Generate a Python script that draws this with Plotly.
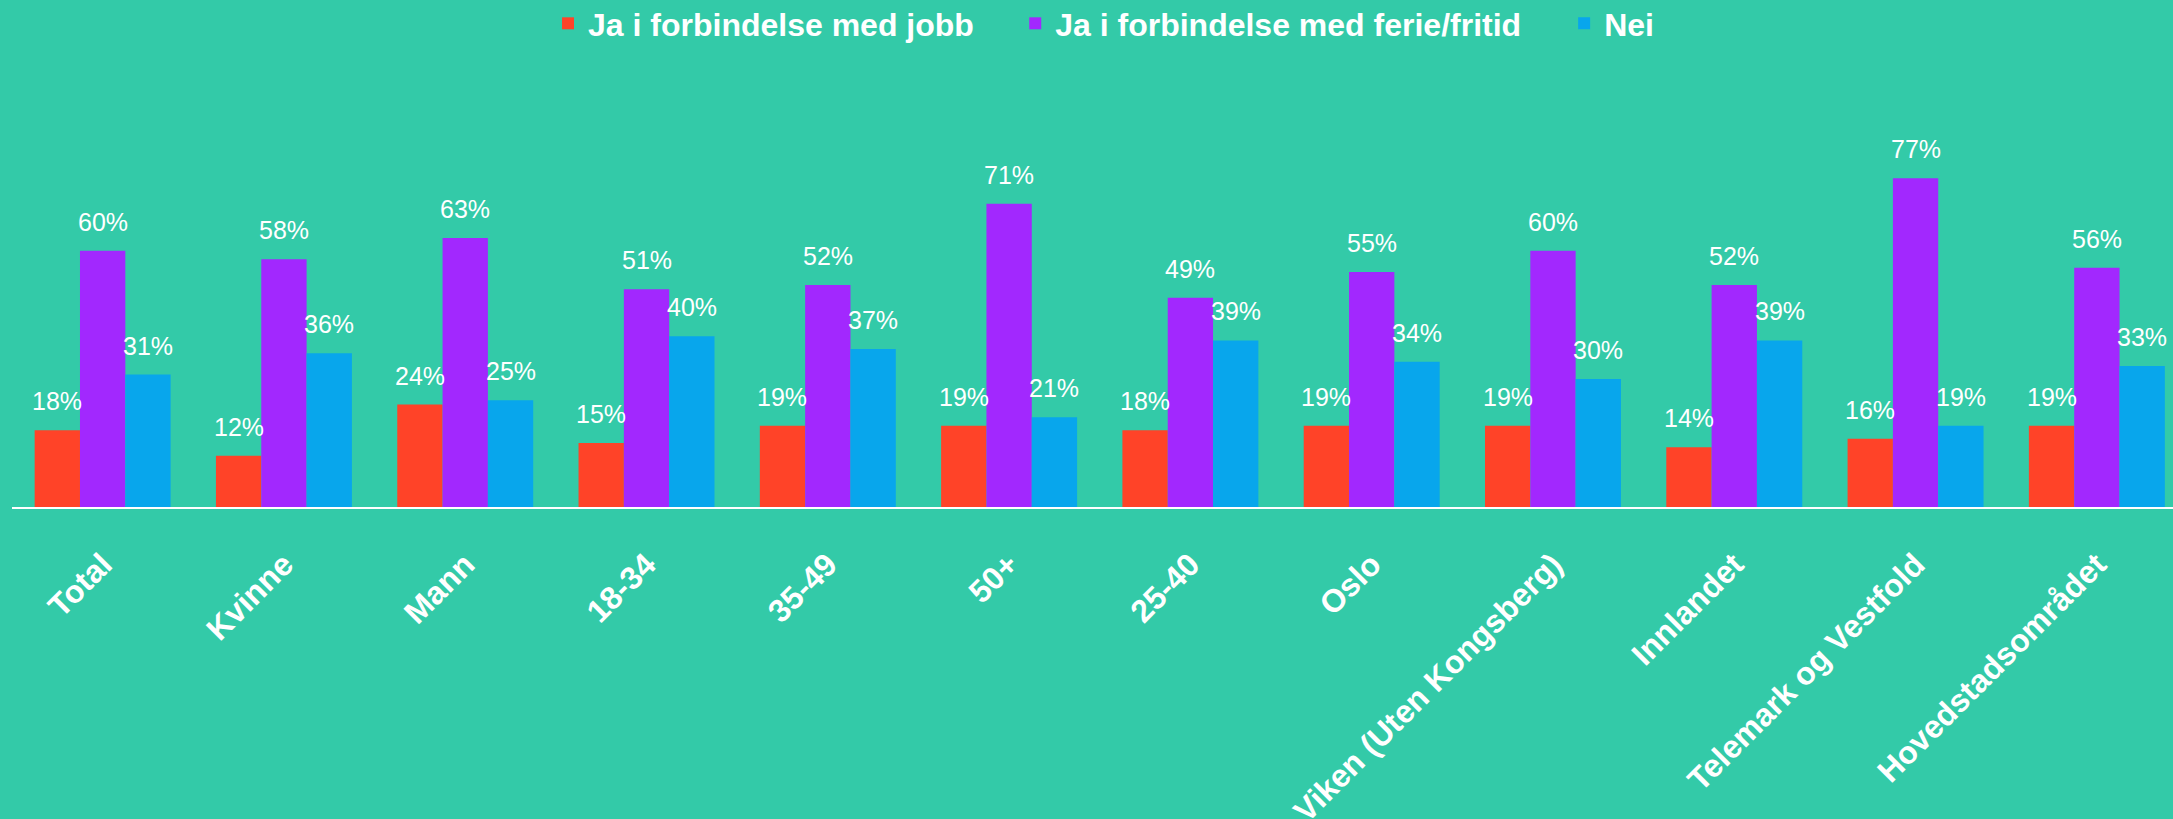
import plotly.graph_objects as go

categories = ["Total", "Kvinne", "Mann", "18-34", "35-49", "50+", "25-40", "Oslo",
              "Viken (Uten Kongsberg)", "Innlandet", "Telemark og Vestfold", "Hovedstadsområdet"]
series_names = ["Ja i forbindelse med jobb", "Ja i forbindelse med ferie/fritid", "Nei"]
jobb = [18, 12, 24, 15, 19, 19, 18, 19, 19, 14, 16, 19]
ferie = [60, 58, 63, 51, 52, 71, 49, 55, 60, 52, 77, 56]
nei = [31, 36, 25, 40, 37, 21, 39, 34, 30, 39, 19, 33]

colors = ["#FF4328", "#A228FE", "#08A6EC"]
bg = "#33CAA8"
FONT = "Liberation Sans, Arial, sans-serif"

legend_ids = ["legend", "legend2", "legend3"]
legend_x = [0.2522, 0.4672, 0.7198]

fig = go.Figure()
all_series = [jobb, ferie, nei]
for name, vals, col, lid in zip(series_names, all_series, colors, legend_ids):
    fig.add_trace(go.Bar(x=categories, y=vals, name=name, legend=lid,
                         marker=dict(color=col, line=dict(width=0))))

offsets = [-0.25, 0.0, 0.25]
annotations = []
for vals, off in zip(all_series, offsets):
    for i, v in enumerate(vals):
        annotations.append(dict(x=i + off, y=v, xref="x", yref="y", text=f"{v}%",
                                showarrow=False, yanchor="bottom", yshift=13,
                                font=dict(family=FONT, size=25, color="white")))

legend_style = dict(orientation="h", xref="container", yref="paper", xanchor="left",
                    y=1.2555, yanchor="top",
                    font=dict(family=FONT, size=32, color="white", weight="bold"),
                    bgcolor="rgba(0,0,0,0)")
layout_legends = {lid: dict(legend_style, x=lx) for lid, lx in zip(legend_ids, legend_x)}

fig.update_layout(
    width=2173, height=819,
    paper_bgcolor=bg, plot_bgcolor=bg,
    margin=dict(l=12, r=0, t=100, b=312, autoexpand=False),
    barmode="group", bargap=0.25, bargroupgap=0,
    font=dict(family=FONT, color="white"),
    annotations=annotations,
    showlegend=True,
    **layout_legends,
)
fig.update_xaxes(range=[-0.5, 11.42], showline=True, linecolor="white", linewidth=2,
                 showgrid=False, zeroline=False, ticks="", tickangle=-45,
                 ticklabelstandoff=24, automargin=False,
                 tickfont=dict(family=FONT, size=32, color="white", weight="bold"))
fig.update_yaxes(range=[0, 95.3], visible=False, showgrid=False, zeroline=False, automargin=False)

fig.write_html("out.html", config={"displayModeBar": False},
               post_script="document.body.style.margin='0';document.body.style.padding='0';"
                           "document.documentElement.style.overflow='hidden';")
